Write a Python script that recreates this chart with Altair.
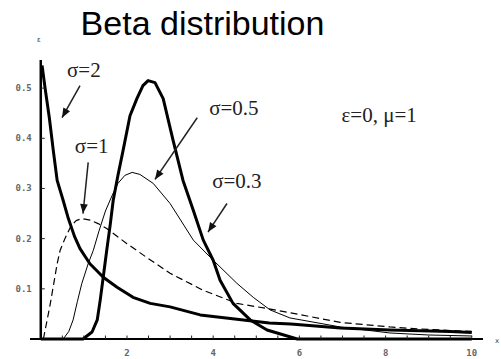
import math
import altair as alt
import pandas as pd

# ---- data ----
sig2_x = [0.03, 0.1, 0.2, 0.29, 0.38, 0.52, 0.64, 0.78, 0.91, 1.14, 1.45, 1.77, 2.14, 2.54,
          3.0, 3.7, 4.5, 5.3, 5.8, 6.95, 8.1, 9.5, 10.0]
sig2_y = [0.545, 0.5, 0.44, 0.376, 0.316, 0.276, 0.24, 0.205, 0.18, 0.15, 0.123, 0.103, 0.083, 0.071,
          0.064, 0.048, 0.04, 0.032, 0.03, 0.022, 0.018, 0.015, 0.013]

sig1_x = [0.06, 0.13, 0.22, 0.3, 0.38, 0.45, 0.56, 0.7, 0.82, 0.96, 1.15, 1.33, 1.53, 2.0, 2.5,
          3.0, 3.77, 4.55, 5.3, 5.8, 6.95, 8.1, 9.0, 10.0]
sig1_y = [0.0, 0.03, 0.07, 0.11, 0.15, 0.177, 0.2, 0.225, 0.236, 0.24, 0.237, 0.23, 0.22, 0.19, 0.16,
          0.131, 0.097, 0.071, 0.06, 0.052, 0.033, 0.024, 0.019, 0.015]

sig05_x = [0.0, 0.52, 0.65, 0.75, 0.85, 0.95, 1.1, 1.22, 1.35, 1.5, 1.65, 1.79, 1.95, 2.12, 2.3, 2.61,
           3.0, 3.54, 4.0, 4.55, 4.93, 5.32, 5.78, 6.95, 8.1, 9.0, 10.0]
sig05_y = [0.0, 0.0, 0.015, 0.038, 0.075, 0.11, 0.15, 0.177, 0.215, 0.255, 0.285, 0.31, 0.326, 0.332, 0.328, 0.31,
           0.27, 0.197, 0.157, 0.111, 0.083, 0.058, 0.042, 0.024, 0.012, 0.008, 0.006]

sig03_x = [0.0, 0.98, 1.19, 1.31, 1.38, 1.47, 1.54, 1.61, 1.68, 1.79, 1.91, 2.07, 2.23, 2.37, 2.49, 2.65,
           2.84, 3.07, 3.3, 3.54, 3.77, 4.0, 4.16, 4.46, 4.86, 5.25, 5.95, 10.0]
sig03_y = [0.0, 0.0, 0.014, 0.038, 0.078, 0.137, 0.183, 0.227, 0.276, 0.326, 0.376, 0.445, 0.479, 0.505, 0.515, 0.511,
           0.479, 0.396, 0.316, 0.256, 0.197, 0.157, 0.117, 0.071, 0.038, 0.018, 0.0, 0.0]

x_ticks_minor = [i * 0.5 for i in range(1, 21)]
x_tick_labels = [2, 4, 6, 8, 10]
y_tick_labels = [0.1, 0.2, 0.3, 0.4, 0.5]

title_text = "Beta distribution"

labels_text = ["σ=2", "σ=1", "σ=0.5", "σ=0.3", "ε=0, μ=1"]
labels_x = [1.0, 1.18, 4.48, 4.55, 7.85]
labels_y = [0.535, 0.383, 0.459, 0.312, 0.444]

arrow_x1 = [0.91, 1.1, 3.63, 4.32]
arrow_y1 = [0.505, 0.352, 0.441, 0.27]
arrow_x2 = [0.494, 0.98, 2.65, 3.88]
arrow_y2 = [0.441, 0.25, 0.318, 0.213]

# ---- layout ----
W, H = 453, 279
XMIN, XMAX = -0.25, 10.26
YMIN, YMAX = 0.0, 0.556
xs = alt.Scale(domain=[XMIN, XMAX], nice=False, zero=False)
ys = alt.Scale(domain=[YMIN, YMAX], nice=False, zero=False)
px_x = W / (XMAX - XMIN)
px_y = H / (YMAX - YMIN)

X = lambda f: alt.X(f, type="quantitative", scale=xs, axis=None)
Y = lambda f: alt.Y(f, type="quantitative", scale=ys, axis=None)


def curve(xv, yv, width, dash=None):
    df = pd.DataFrame({"x": xv, "y": yv, "i": list(range(len(xv)))})
    kw = dict(color="black", strokeWidth=width, strokeJoin="round")
    if dash:
        kw["strokeDash"] = dash
    return alt.Chart(df).mark_line(**kw).encode(x=X("x"), y=Y("y"), order="i:Q")


c2 = curve(sig2_x, sig2_y, 3)
c1 = curve(sig1_x, sig1_y, 1.2, [7, 4])
c05 = curve(sig05_x, sig05_y, 1)
c03 = curve(sig03_x, sig03_y, 3)

# axes drawn by hand
x_axis = alt.Chart(pd.DataFrame({"x": [XMIN], "x2": [XMAX], "y": [0.0]})).mark_rule(
    color="black", strokeWidth=2).encode(x=X("x"), x2="x2:Q", y=Y("y"))
y_axis = alt.Chart(pd.DataFrame({"x": [0.0], "y": [0.0], "y2": [YMAX]})).mark_rule(
    color="black", strokeWidth=2.5).encode(x=X("x"), y=Y("y"), y2="y2:Q")

xt_df = pd.DataFrame({"x": x_ticks_minor, "y": [0.0] * len(x_ticks_minor),
                      "y2": [3.5 / px_y] * len(x_ticks_minor)})
x_ticks = alt.Chart(xt_df).mark_rule(color="#222", strokeWidth=1).encode(
    x=X("x"), y=Y("y"), y2="y2:Q")

yt_df = pd.DataFrame({"y": y_tick_labels, "x": [0.0] * len(y_tick_labels),
                      "x2": [4 / px_x] * len(y_tick_labels)})
y_ticks = alt.Chart(yt_df).mark_rule(color="#222", strokeWidth=1).encode(
    y=Y("y"), x=X("x"), x2="x2:Q")

xl_df = pd.DataFrame({"x": x_tick_labels, "y": [0.0] * len(x_tick_labels),
                      "t": [str(v) for v in x_tick_labels]})
x_labels = alt.Chart(xl_df).mark_text(font="DejaVu Sans Mono", fontSize=9, fontWeight="bold",
                                     color="#666", baseline="middle", dy=14).encode(
    x=X("x"), y=Y("y"), text="t:N")

yl_df = pd.DataFrame({"y": y_tick_labels, "x": [0.0] * len(y_tick_labels),
                      "t": [f"{v:.1f}" for v in y_tick_labels]})
y_labels = alt.Chart(yl_df).mark_text(font="DejaVu Sans Mono", fontSize=9, fontWeight="bold",
                                     color="#666", align="right", baseline="middle", dx=-9).encode(
    y=Y("y"), x=X("x"), text="t:N")

eps_name = alt.Chart(pd.DataFrame({"x": [0.0], "y": [YMAX], "t": ["ε"]})).mark_text(
    font="DejaVu Sans", fontSize=7, color="#444", baseline="middle", dx=-2, dy=-20).encode(
    x=X("x"), y=Y("y"), text="t:N")
x_name = alt.Chart(pd.DataFrame({"x": [XMAX], "y": [0.0], "t": ["x"]})).mark_text(
    font="DejaVu Sans", fontSize=7, color="#444", baseline="middle", dx=14, dy=2).encode(
    x=X("x"), y=Y("y"), text="t:N")

# title placed above the plot frame
title_df = pd.DataFrame({"x": [XMIN + 172.5 / px_x], "y": [YMAX + 25 / px_y], "t": [title_text]})
title = alt.Chart(title_df).mark_text(font="Liberation Sans", fontSize=34, color="black",
                                      align="center", baseline="alphabetic").encode(
    x=X("x"), y=Y("y"), text="t:N")

ann_df = pd.DataFrame({"x": labels_x, "y": labels_y, "t": labels_text})
annotations = alt.Chart(ann_df).mark_text(font="Liberation Serif", fontSize=21, color="#222",
                                          baseline="middle").encode(
    x=X("x"), y=Y("y"), text="t:N")

angles = []
for a, b, c, d in zip(arrow_x1, arrow_y1, arrow_x2, arrow_y2):
    dxs = (c - a) * px_x
    dys = -(d - b) * px_y
    angles.append(math.degrees(math.atan2(dxs, -dys)) % 360)

arr_df = pd.DataFrame({"x1": arrow_x1, "y1": arrow_y1, "x2": arrow_x2, "y2": arrow_y2, "ang": angles})
arrow_lines = alt.Chart(arr_df).mark_rule(color="#222", strokeWidth=1.5).encode(
    x=X("x1"), y=Y("y1"), x2="x2:Q", y2="y2:Q")
arrow_heads = alt.Chart(arr_df).mark_point(
    shape="M0,0L0.55,1.35L-0.55,1.35Z", filled=True, color="#111", size=196, opacity=1).encode(
    x=X("x2"), y=Y("y2"), angle=alt.Angle("ang:Q", scale=None))

chart = alt.layer(
    c1, c05, c2, c03, x_axis, y_axis, x_ticks, y_ticks, x_labels, y_labels, eps_name, x_name,
    arrow_lines, arrow_heads, annotations, title,
).properties(
    width=W, height=H,
    padding={"left": 30, "top": 60, "right": 18, "bottom": 20},
    autosize="none",
    background="white",
).configure_view(stroke=None)

chart.save("out.html", embed_options={"renderer": "svg", "actions": False})
